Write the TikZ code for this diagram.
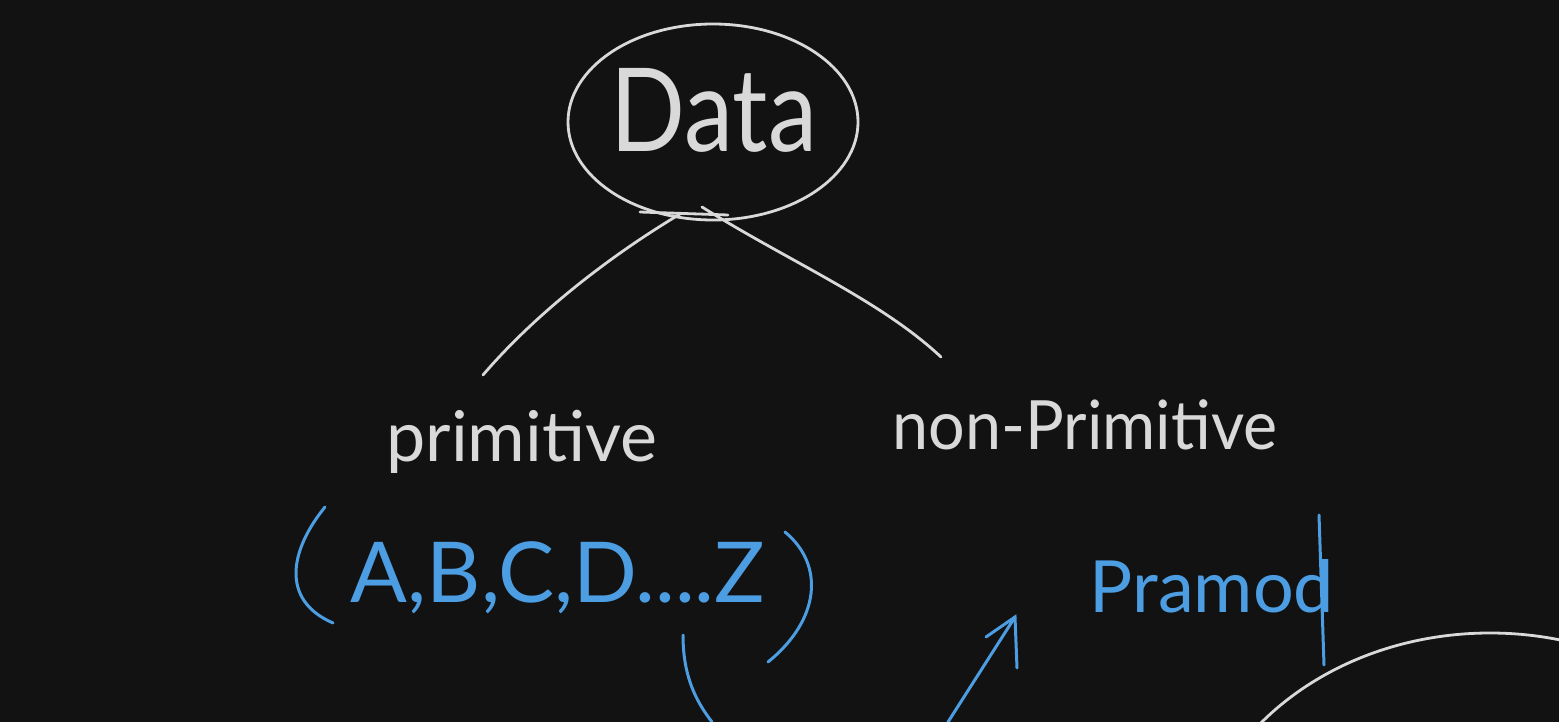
\documentclass[tikz,border=0pt]{standalone}
\usepackage{fontspec}
\setmainfont{Lato}
\usetikzlibrary{shapes.geometric}
\definecolor{bg}{HTML}{121212}
\definecolor{chalk}{HTML}{D9D9D9}
\definecolor{ink}{HTML}{4C9DE2}
\begin{document}
\begin{tikzpicture}[x=0.5pt,y=-0.5pt,
  wline/.style={draw=chalk,line width=1.4pt,line cap=round},
  bline/.style={draw=ink,line width=1.5pt,line cap=round},
  wtext/.style={text=chalk,inner sep=0pt},
  btext/.style={text=ink,inner sep=0pt}]
\fill[bg] (0,0) rectangle (1559,722);
\useasboundingbox (0,0) rectangle (1559,722);
% Data ellipse
\node[wline,ellipse,minimum width=145pt,minimum height=98pt,inner sep=0pt] (data) at (713,122) {};
\node[wtext,font=\fontsize{58}{60}\selectfont,xscale=0.85] (datatext) at (714,110) {Data};
% labels
\node[wtext,font=\fontsize{35}{36}\selectfont] (prim) at (522,442) {primitive};
\node[wtext,font=\fontsize{34}{36}\selectfont,xscale=0.95] (nonprim) at (1085,425) {non-Primitive};
\node[btext,font=\fontsize{42}{44}\selectfont] (letters) at (558,578) {A,B,C,D....Z};
\node[btext,font=\fontsize{36}{40}\selectfont] (pramod) at (1212,586) {Pramod};
% connector end points
\coordinate (dl) at (680,214);
\coordinate (dr) at (702,207);
\coordinate (pl) at (483,375);
\coordinate (nr) at (941,357);
\draw[wline] (dl) .. controls (600,262) and (530,320) .. (pl);
\draw[wline] (dr) .. controls (790,262) and (880,300) .. (nr);
\draw[wline] (640,212) -- (728,215);
% brackets
\coordinate (lb1) at (325,507);
\coordinate (lb2) at (333,623);
\draw[bline] (lb1) .. controls (290,550) and (280,600) .. (lb2);
\coordinate (rb1) at (785,532);
\coordinate (rb2) at (768,662);
\draw[bline] (rb1) .. controls (825,565) and (820,620) .. (rb2);
% curve under Z
\coordinate (c1) at (683,635);
\coordinate (c2) at (712,722);
\draw[bline] (c1) .. controls (683,675) and (695,700) .. (c2);
% arrow
\coordinate (a0) at (948,722);
\coordinate (a1) at (1015,617);
\draw[bline] (a0) -- (a1);
\draw[bline] (986,637) -- (a1) -- (1017,668);
% Pramod stroke
\coordinate (s1) at (1319,515);
\coordinate (s2) at (1324,665);
\draw[bline] (s1) -- (s2);
% big arc bottom right
\begin{scope}
\clip (0,0) rectangle (1559,722);
\draw[wline] (1490,887) ellipse [x radius=300, y radius=254];
\end{scope}
\end{tikzpicture}
\end{document}
